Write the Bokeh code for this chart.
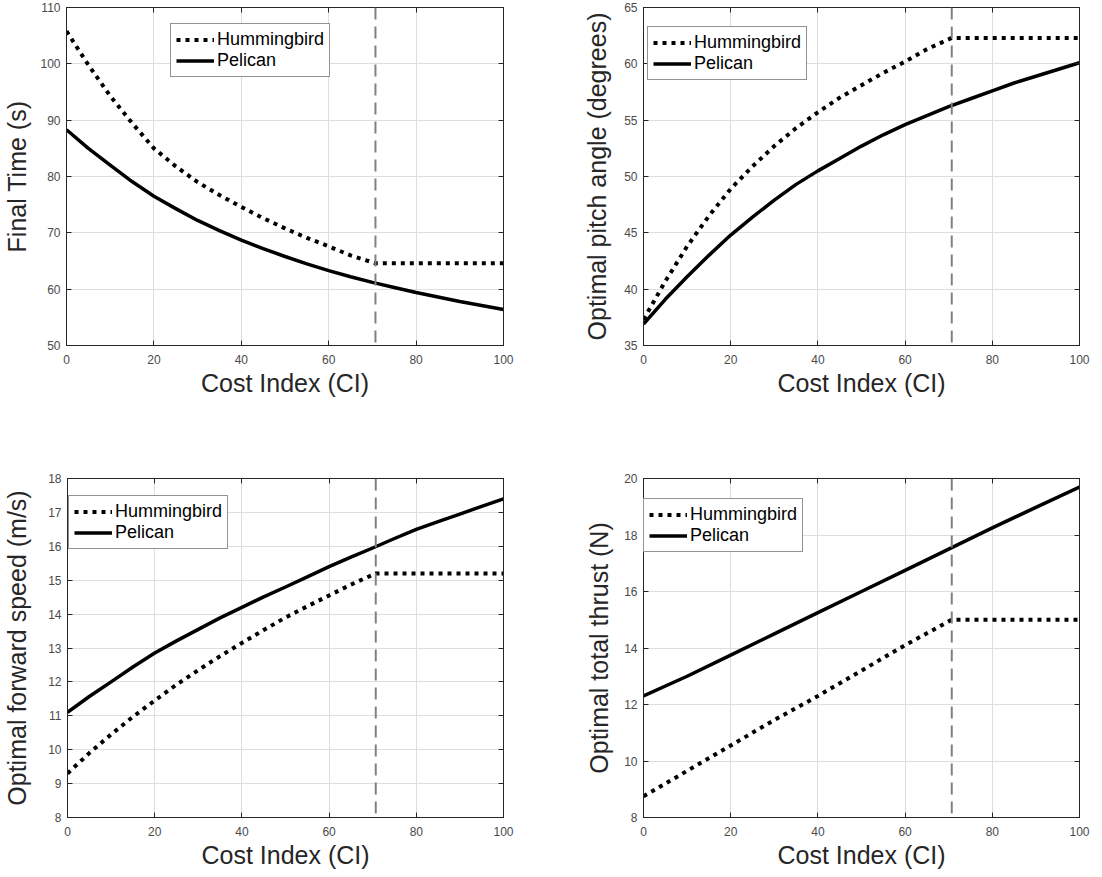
from bokeh.plotting import figure
from bokeh.layouts import column, row
from bokeh.models import (Range1d, FixedTicker, LinearAxis, Span, Legend,
                          LegendItem, CustomJSTickFormatter)
from bokeh.embed import file_html
from bokeh.resources import INLINE

# ---------------- data ----------------
ci_fine = [0, 5, 10, 15, 20, 25, 30, 35, 40, 45, 50, 55, 60, 65, 70, 75, 80, 85, 90, 95, 100]
ci_hb_fine = [0, 5, 10, 15, 20, 25, 30, 35, 40, 45, 50, 55, 60, 65, 70.7, 80, 90, 100]
ci = [0, 10, 20, 30, 40, 50, 60, 70, 80, 90, 100]
ci_hb = [0, 10, 20, 30, 40, 50, 60, 70.7, 80, 90, 100]
KNEE_CI = 70.7
x_ticks = [0, 20, 40, 60, 80, 100]

final_time_hb = [105.8, 99.8, 94.3, 89.5, 85.0, 81.8, 79.0, 76.7, 74.6, 72.6, 70.8,
                 69.1, 67.6, 66.0, 64.6, 64.6, 64.6, 64.6]
final_time_pel = [88.3, 85.0, 82.0, 79.1, 76.5, 74.3, 72.2, 70.4, 68.7, 67.2, 65.8,
                  64.5, 63.3, 62.2, 61.2, 60.3, 59.4, 58.6, 57.8, 57.1, 56.4]
final_time_ticks = [50, 60, 70, 80, 90, 100, 110]

pitch_hb = [37.3, 40.7, 43.8, 46.5, 48.9, 50.9, 52.7, 54.3, 55.7, 57.0, 58.1,
            59.2, 60.2, 61.3, 62.3, 62.3, 62.3, 62.3]
pitch_pel = [36.9, 39.1, 41.1, 43.0, 44.8, 46.4, 47.9, 49.3, 50.5, 51.6, 52.7,
             53.7, 54.6, 55.4, 56.2, 56.9, 57.6, 58.3, 58.9, 59.5, 60.1]
pitch_ticks = [35, 40, 45, 50, 55, 60, 65]

speed_hb = [9.3, 9.9, 10.45, 10.97, 11.45, 11.92, 12.35, 12.76, 13.15, 13.53, 13.9,
            14.23, 14.55, 14.87, 15.2, 15.2, 15.2, 15.2]
speed_pel = [11.1, 11.57, 12.0, 12.44, 12.85, 13.21, 13.55, 13.89, 14.2, 14.51, 14.8,
             15.1, 15.4, 15.68, 15.95, 16.23, 16.5, 16.73, 16.95, 17.18, 17.4]
speed_ticks = [8, 9, 10, 11, 12, 13, 14, 15, 16, 17, 18]

thrust_hb = [8.75, 9.65, 10.55, 11.45, 12.3, 13.2, 14.1, 15.0, 15.0, 15.0, 15.0]
thrust_pel = [12.3, 13.0, 13.75, 14.5, 15.25, 16.0, 16.75, 17.5, 18.25, 18.98, 19.7]
thrust_ticks = [8, 10, 12, 14, 16, 18, 20]

FONT = "Liberation Sans"
TXT = "#262626"


def panel(x_hb, hb, x_pel, pel, ylabel, yticks, borders, size, legend_loc, ylab_standoff):
    left, right, top, bottom = borders
    w, h = size
    p = figure(width=w, height=h, output_backend="svg", toolbar_location=None,
               x_range=Range1d(0, 100), y_range=Range1d(yticks[0], yticks[-1]),
               min_border_left=left, min_border_right=right,
               min_border_top=top, min_border_bottom=bottom)
    p.background_fill_color = "white"
    p.border_fill_color = "white"
    p.outline_line_color = TXT
    p.outline_line_width = 1

    xt = FixedTicker(ticks=x_ticks)
    yt = FixedTicker(ticks=yticks)
    p.xaxis.ticker = xt
    p.yaxis.ticker = yt
    p.xgrid.ticker = xt
    p.ygrid.ticker = yt
    for g in (p.xgrid, p.ygrid):
        g.grid_line_color = "#dedede"
        g.grid_line_width = 1

    for ax in (p.xaxis, p.yaxis):
        ax.major_tick_in = 5
        ax.major_tick_out = 0
        ax.minor_tick_line_color = None
        ax.axis_line_color = TXT
        ax.major_tick_line_color = TXT
        ax.major_label_text_font = FONT
        ax.major_label_text_font_size = "12px"
        ax.major_label_text_color = "#4a4a4a"
        ax.axis_label_text_font = FONT
        ax.axis_label_text_font_size = "25px"
        ax.axis_label_text_font_style = "normal"
        ax.axis_label_text_color = TXT
    p.xaxis.axis_label = "Cost Index (CI)"
    p.xaxis.major_label_standoff = 9
    p.xaxis.axis_label_standoff = 2
    p.yaxis.axis_label = ylabel
    p.yaxis.major_label_standoff = 6
    p.yaxis.axis_label_standoff = ylab_standoff

    # mirrored ticks on top and right (box on)
    top_ax = LinearAxis(ticker=xt, formatter=CustomJSTickFormatter(code="return ''"),
                        major_tick_in=5, major_tick_out=0, minor_tick_line_color=None,
                        major_label_standoff=0, major_label_text_font_size="0px",
                        axis_line_color=TXT, major_tick_line_color=TXT)
    right_ax = LinearAxis(ticker=yt, formatter=CustomJSTickFormatter(code="return ''"),
                          major_tick_in=5, major_tick_out=0, minor_tick_line_color=None,
                          major_label_standoff=0, major_label_text_font_size="0px",
                          axis_line_color=TXT, major_tick_line_color=TXT)
    p.add_layout(top_ax, "above")
    p.add_layout(right_ax, "right")

    p.add_layout(Span(location=KNEE_CI, dimension="height", line_color="#808080",
                      line_width=2, line_dash="12 7"))

    r_hb = p.line(x_hb, hb, line_color="black", line_width=4, line_dash="4 5",
                  line_join="round")
    r_pel = p.line(x_pel, pel, line_color="black", line_width=3.5, line_join="round")

    leg = Legend(items=[LegendItem(label="Hummingbird", renderers=[r_hb]),
                        LegendItem(label="Pelican", renderers=[r_pel])],
                 location=legend_loc)
    leg.border_line_color = TXT
    leg.border_line_width = 1
    leg.background_fill_color = "white"
    leg.background_fill_alpha = 1
    leg.label_text_font = FONT
    leg.label_text_font_size = "18px"
    leg.label_text_color = "black"
    leg.glyph_width = 38
    leg.glyph_height = 19
    leg.label_height = 19
    leg.label_standoff = 3
    leg.spacing = 0
    leg.padding = 5
    leg.margin = 0
    p.add_layout(leg, "center")
    return p


p1 = panel(ci_hb_fine, final_time_hb, ci_fine, final_time_pel, "Final Time (s)",
           final_time_ticks, (66, 48, 7, 75), (551, 420), (104, 268), 6)
p2 = panel(ci_hb_fine, pitch_hb, ci_fine, pitch_pel, "Optimal pitch angle (degrees)",
           pitch_ticks, (92, 23, 7, 75), (551, 420), (4, 265), 10)
p3 = panel(ci_hb_fine, speed_hb, ci_fine, speed_pel, "Optimal forward speed (m/s)",
           speed_ticks, (66, 48, 58, 60), (551, 457), (1, 268), 14)
p4 = panel(ci_hb, thrust_hb, ci, thrust_pel, "Optimal total thrust (N)",
           thrust_ticks, (92, 23, 58, 60), (551, 457), (0, 265), 8)

layout = column(row(p1, p2, spacing=0), row(p3, p4, spacing=0), spacing=0)

with open("out.html", "w") as f:
    f.write(file_html(layout, INLINE))
